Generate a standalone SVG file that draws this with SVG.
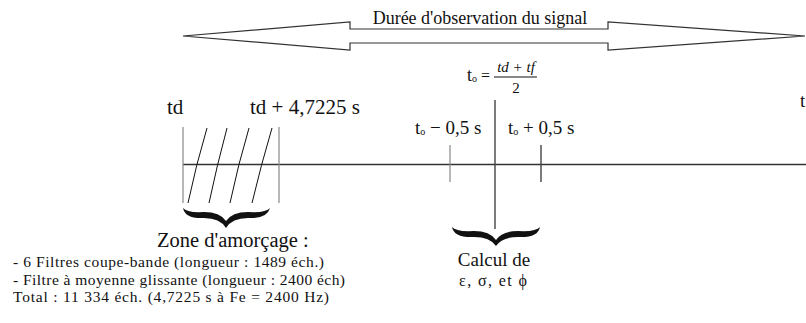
<svg xmlns="http://www.w3.org/2000/svg" width="806" height="323" viewBox="0 0 806 323">
<style>
.ax{stroke:#333;stroke-width:1.3;fill:none}
.vg{stroke:#888;stroke-width:1.2;fill:none}
.vd{stroke:#444;stroke-width:1.4;fill:none}
.ht{stroke:#111;stroke-width:1;fill:none}
.br{fill:#111}
</style>
<rect width="806" height="323" fill="#fff"/>
<g font-family="Liberation Serif, DejaVu Serif, serif" fill="#111">
<g id="observation">
<path d="M183,36 L350,22 L350,29 L608,29 L608,22 L805,36 L608,50 L608,43 L350,43 L350,50 Z" fill="#fff" stroke="#333" stroke-width="1.2"/>
<text x="480" y="24" font-size="18" text-anchor="middle">Durée d'observation du signal</text>
</g>
<g id="connectors">
<line class="ax" x1="183" y1="164.5" x2="806" y2="164.5"/>
<line class="vg" x1="183" y1="127" x2="183" y2="203"/>
<line class="vg" x1="279" y1="127" x2="279" y2="203"/>
<path class="ht" d="M207,128 Q196,165 188,203"/>
<path class="ht" d="M227,128 Q217,165 209,203"/>
<path class="ht" d="M249,128 Q238,165 230,203"/>
<path class="ht" d="M272,128 Q261,165 252,203"/>
<line class="vd" x1="495" y1="100" x2="495" y2="229"/>
<line class="vg" x1="450" y1="145" x2="450" y2="182"/>
<line class="vd" x1="541" y1="145" x2="541" y2="182"/>
</g>
<g id="td">
<text x="167" y="114" font-size="21">td</text>
</g>
<g id="td-end">
<text x="250" y="114" font-size="21">td + 4,7225 s</text>
</g>
<g id="t-axis">
<text x="800" y="107" font-size="19">t</text>
</g>
<g id="t0">
<text x="467" y="81" font-size="18">t<tspan font-size="10" dy="1">o</tspan></text>
<text x="481" y="81" font-size="16">=</text>
<text x="516" y="72" font-size="15" font-style="italic" text-anchor="middle">td + tf</text>
<line x1="494" y1="77" x2="537" y2="77" stroke="#111" stroke-width="1"/>
<text x="516" y="93" font-size="15" text-anchor="middle">2</text>
</g>
<g id="t0-minus">
<text x="415" y="134" font-size="19">t<tspan font-size="10" dy="1">o</tspan><tspan dy="-1"> − 0,5 s</tspan></text>
</g>
<g id="t0-plus">
<text x="508" y="134" font-size="19">t<tspan font-size="10" dy="1">o</tspan><tspan dy="-1"> + 0,5 s</tspan></text>
</g>
<g id="zone">
<path class="br" d="M183,208 Q185,219 204,218 Q220,218 226,228 Q232,218 248,218 Q267,219 270,208 Q266,213 248,212 Q232,212 226,221 Q220,212 204,212 Q187,213 183,208 Z"/>
<text x="157" y="247" font-size="20.5">Zone d'amorçage :</text>
<text x="13" y="267" font-size="15.5" textLength="311" lengthAdjust="spacing">- 6 Filtres coupe-bande (longueur : 1489 éch.)</text>
<text x="13" y="285" font-size="15.5" textLength="332" lengthAdjust="spacing">- Filtre à moyenne glissante (longueur : 2400 éch)</text>
<text x="13" y="302" font-size="15.5" textLength="316" lengthAdjust="spacing">Total : 11 334 éch. (4,7225 s à Fe = 2400 Hz)</text>
</g>
<g id="calcul">
<path class="br" d="M452,227 Q454,238 474,237 Q490,237 496,246 Q502,237 518,237 Q538,238 540,227 Q536,232 518,231 Q502,231 496,240 Q490,231 474,231 Q456,232 452,227 Z"/>
<text x="494" y="266" font-size="19" text-anchor="middle">Calcul de</text>
<text x="459" y="286" font-size="16" textLength="68" lengthAdjust="spacing">ε, σ, et ϕ</text>
</g>
</g>
</svg>
